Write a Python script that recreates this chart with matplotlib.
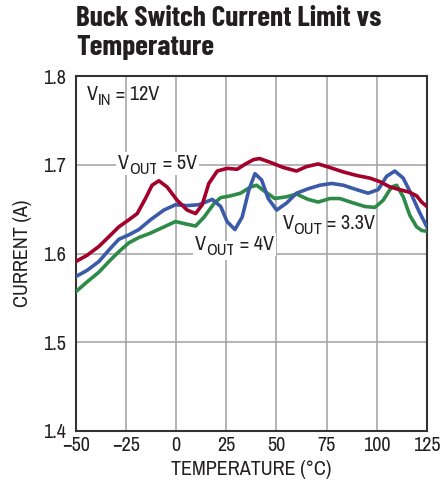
import matplotlib
matplotlib.use("Agg")
from matplotlib import pyplot as plt

# temperature (C) and current (A)
t_5v = [-50, -44.4, -38.5, -33.5, -28.6, -23.6, -19.4, -15.3, -12, -8.6, -4.5, 0.5, 5.5, 9.7, 13,
        16.3, 20.5, 25.4, 30.4, 34.6, 38.7, 41.7, 46.7, 53.4, 60, 65, 70.8, 76.6, 83.3, 90,
        96.6, 101.6, 106.6, 111.5, 116.5, 119.9, 122.4, 125]
i_5v = [1.591, 1.598, 1.608, 1.619, 1.630, 1.638, 1.645, 1.662, 1.677, 1.682, 1.675, 1.660, 1.649, 1.645, 1.655,
        1.679, 1.693, 1.696, 1.695, 1.701, 1.706, 1.707, 1.703, 1.697, 1.693, 1.698, 1.701, 1.697, 1.692, 1.688,
        1.685, 1.681, 1.675, 1.672, 1.669, 1.665, 1.658, 1.653]

t_33v = [-50, -44.4, -38.5, -33.5, -28.6, -23.6, -18.6, -12.8, -6.1, -0.3, 5.5, 11.3, 18, 22.2, 25.4,
         29.3, 32.9, 36.3, 39.3, 42.6, 45.9, 50.1, 55.1, 60, 65.8, 71.7, 77.5, 83.3, 90, 95.7,
         100.7, 104.9, 109, 113.2, 117.4, 121.2, 125]
i_33v = [1.574, 1.581, 1.591, 1.604, 1.616, 1.621, 1.627, 1.638, 1.649, 1.655, 1.654, 1.655, 1.661, 1.653, 1.636,
         1.627, 1.641, 1.672, 1.690, 1.683, 1.662, 1.649, 1.657, 1.668, 1.673, 1.677, 1.679, 1.677, 1.672, 1.668,
         1.672, 1.687, 1.693, 1.685, 1.666, 1.647, 1.630]

t_4v = [-50, -44.4, -38.5, -33.5, -28.6, -23.6, -18.6, -12.8, -6.1, -0.3, 5.5, 9.7, 13.9, 19.1, 22.2,
        27.1, 32.1, 37.1, 40.1, 44.2, 49.2, 55.1, 60, 65.8, 70.8, 76.6, 81.6, 88.3, 94.1, 99.1,
        103.2, 107.4, 109.9, 113.2, 116.5, 119.9, 122.4, 125]
i_4v = [1.557, 1.568, 1.579, 1.591, 1.602, 1.612, 1.618, 1.623, 1.630, 1.636, 1.633, 1.631, 1.641, 1.657, 1.663,
        1.665, 1.668, 1.675, 1.677, 1.670, 1.662, 1.664, 1.667, 1.661, 1.658, 1.662, 1.662, 1.657, 1.653, 1.652,
        1.660, 1.675, 1.677, 1.664, 1.643, 1.630, 1.626, 1.625]

x_ticks = [-50, -25, 0, 25, 50, 75, 100, 125]
x_labels = ["\u221250", "\u221225", "0", "25", "50", "75", "100", "125"]
y_ticks = [1.4, 1.5, 1.6, 1.7, 1.8]

red = "#a3002b"
blue = "#3b5aa8"
green = "#2e8b47"
ink = "#231f20"

plt.rcParams["font.family"] = ["Archivo Narrow", "DejaVu Sans"]

fig = plt.figure(figsize=(4.41, 4.88), dpi=100)
ax = fig.add_axes([0.172, 0.117, 0.796, 0.727])

ax.plot(t_4v, i_4v, color=green, lw=2.6, solid_joinstyle="round", zorder=3)
ax.plot(t_33v, i_33v, color=blue, lw=2.6, solid_joinstyle="round", zorder=4)
ax.plot(t_5v, i_5v, color=red, lw=2.6, solid_joinstyle="round", zorder=5)

ax.set_xlim(-50, 125)
ax.set_ylim(1.4, 1.8)
ax.set_xticks(x_ticks)
ax.set_xticklabels(x_labels)
ax.set_yticks(y_ticks)
ax.set_yticklabels(["%.1f" % v for v in y_ticks])
ax.grid(True, color="#a0a0a0", lw=1.1)
ax.set_axisbelow(True)
ax.tick_params(length=0, labelsize=14.5, colors=ink)
ax.tick_params(axis="x", pad=4)
ax.tick_params(axis="y", pad=7)
for s in ax.spines.values():
    s.set_linewidth(1.5)
    s.set_color("#333333")

ax.set_xlabel("TEMPERATURE (\u00b0C)", fontsize=14.5, color=ink, labelpad=3)
ax.set_ylabel("CURRENT (A)", fontsize=14.5, color=ink, labelpad=8)


# "V" + lowered subscript + rest, subscript nearly full size like the original
def vlabel(x, y, sub, rest, white=False):
    bb = dict(facecolor="white", edgecolor="none", pad=1.5) if white else None
    t1 = ax.text(x, y, "V", fontsize=14.5, color=ink, va="center", ha="left", bbox=bb, zorder=2)
    t2 = ax.annotate(sub, xy=(1, 0), xycoords=t1, xytext=(0, -3), textcoords="offset points",
                     fontsize=12, color=ink, va="bottom", ha="left", bbox=bb, zorder=2)
    ax.annotate(rest, xy=(1, 0), xycoords=t2, xytext=(0, 3), textcoords="offset points",
                fontsize=14.5, color=ink, va="bottom", ha="left", bbox=bb, zorder=2)


vlabel(-44.5, 1.779, "IN", " = 12V")
vlabel(-29, 1.702, "OUT", " = 5V", white=True)
vlabel(53, 1.634, "OUT", " = 3.3V")
vlabel(9.3, 1.610, "OUT", " = 4V", white=True)

fig.text(0.173, 0.988, "Buck Switch Current Limit vs\nTemperature", fontsize=21,
         family=["Barlow Condensed", "DejaVu Sans"], fontweight="bold", color=ink,
         va="top", ha="left", linespacing=1.2)

fig.savefig("out.png", dpi=100)
